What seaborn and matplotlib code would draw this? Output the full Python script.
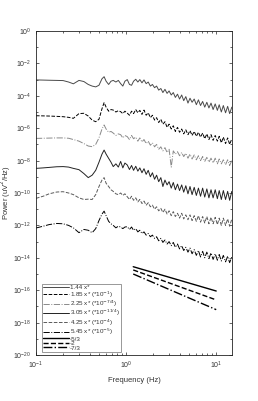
import numpy as np
import pandas as pd
import matplotlib
matplotlib.use("Agg")
import matplotlib.pyplot as plt
import seaborn as sns
from matplotlib.ticker import FixedLocator, NullFormatter

# frequencies (Hz) shared by all spectra
freq = [0.10, 0.12, 0.14, 0.17, 0.20, 0.23, 0.26, 0.30, 0.34, 0.38, 0.42, 0.46,
        0.50, 0.54, 0.57, 0.60, 0.64, 0.68, 0.72, 0.77, 0.82, 0.87, 0.92, 0.97,
        1.03, 1.09, 1.15, 1.21, 1.28, 1.35, 1.42, 1.50, 1.58, 1.67, 1.76, 1.86,
        1.96, 2.07, 2.18, 2.30, 2.43, 2.56, 2.70, 2.85, 3.00, 3.17, 3.34, 3.52,
        3.72, 3.92, 4.14, 4.36, 4.60, 4.86, 5.12, 5.40, 5.70, 6.02, 6.35, 6.70,
        7.07, 7.46, 7.87, 8.30, 8.76, 9.24, 9.75, 10.3, 10.8, 11.4, 12.0, 12.7,
        13.4, 14.1, 14.9]

# log10 power of each (scaled) spectrum
s1 = [-3.02, -3.03, -3.04, -3.05, -3.06, -3.15, -3.26, -3.05, -3.12, -3.30, -3.40, -3.45,
      -3.35, -2.95, -2.82, -3.10, -3.30, -3.10, -3.05, -3.15, -3.05, -3.25, -3.40, -3.10,
      -3.00, -3.30, -3.35, -3.10, -2.98, -3.15, -3.00, -3.20, -3.02, -3.25, -3.15, -3.40,
      -3.30, -3.50, -3.40, -3.65, -3.55, -3.80, -3.60, -3.85, -3.70, -3.95, -3.80, -4.10,
      -3.90, -4.20, -3.95, -4.30, -4.05, -4.45, -4.15, -4.40, -4.20, -4.55, -4.25, -4.60,
      -4.35, -4.70, -4.40, -4.75, -4.45, -4.85, -4.50, -4.90, -4.55, -5.00, -4.60, -5.05,
      -4.65, -5.10, -4.70]
s2 = [-5.23, -5.24, -5.25, -5.27, -5.29, -5.33, -5.39, -5.10, -5.08, -5.25, -5.50, -5.60,
      -5.45, -4.80, -4.42, -4.70, -4.95, -4.85, -4.88, -5.00, -4.92, -4.98, -5.10, -4.95,
      -5.07, -5.20, -4.95, -5.10, -4.85, -5.05, -4.90, -5.15, -4.88, -5.20, -5.05, -5.35,
      -5.20, -5.50, -5.35, -5.65, -5.45, -5.75, -5.60, -5.95, -5.75, -6.05, -5.85, -6.20,
      -5.95, -6.25, -6.05, -6.35, -6.10, -6.40, -6.15, -6.45, -6.20, -6.50, -6.25, -6.55,
      -6.30, -6.65, -6.35, -6.70, -6.40, -6.75, -6.45, -6.80, -6.50, -6.90, -6.55, -6.95,
      -6.60, -7.00, -6.65]
s3 = [-6.63, -6.62, -6.61, -6.60, -6.60, -6.62, -6.70, -6.80, -6.95, -7.10, -7.14, -7.00,
      -6.60, -6.05, -5.80, -6.05, -6.25, -6.20, -6.30, -6.45, -6.35, -6.40, -6.60, -6.45,
      -6.52, -6.70, -6.45, -6.65, -6.55, -6.80, -6.60, -6.85, -6.70, -6.95, -6.80, -7.05,
      -6.90, -7.15, -7.00, -7.30, -7.15, -7.40, -7.20, -7.50, -7.30, -8.40, -7.40, -7.60,
      -7.45, -7.70, -7.50, -7.75, -7.55, -7.85, -7.60, -7.90, -7.65, -7.95, -7.70, -8.00,
      -7.75, -8.05, -7.80, -8.10, -7.85, -8.15, -7.85, -8.20, -7.90, -8.20, -7.95, -8.25,
      -7.95, -8.30, -8.00]
s4 = [-8.48, -8.45, -8.42, -8.38, -8.37, -8.40, -8.48, -8.56, -8.80, -9.05, -8.90, -8.60,
      -8.10, -7.60, -7.35, -7.60, -7.86, -8.10, -8.37, -8.20, -8.40, -8.05, -8.45, -8.15,
      -8.27, -8.55, -8.30, -8.60, -8.35, -8.65, -8.45, -8.75, -8.50, -8.85, -8.60, -9.00,
      -8.75, -9.15, -8.90, -9.30, -9.05, -9.60, -9.20, -9.50, -9.30, -9.70, -9.35, -9.80,
      -9.45, -9.85, -9.50, -9.95, -9.55, -10.05, -9.60, -10.10, -9.65, -10.15, -9.70, -10.20,
      -9.70, -10.25, -9.75, -10.30, -9.80, -10.30, -9.80, -10.35, -9.85, -10.40, -9.85, -10.40,
      -9.90, -10.45, -9.90]
s5 = [-10.33, -10.20, -10.05, -9.94, -9.92, -10.00, -10.10, -10.30, -10.40, -10.38, -10.40, -10.10,
      -9.60, -9.20, -9.05, -9.40, -9.60, -9.80, -9.90, -10.05, -10.10, -10.00, -10.15, -10.05,
      -10.23, -10.40, -10.20, -10.45, -10.30, -10.55, -10.40, -10.65, -10.50, -10.75, -10.60, -10.85,
      -10.75, -11.00, -10.85, -11.10, -10.95, -11.20, -11.00, -11.30, -11.10, -11.40, -11.15, -11.45,
      -11.25, -11.55, -11.25, -11.60, -11.35, -11.65, -11.35, -11.70, -11.40, -11.75, -11.40, -11.80,
      -11.45, -11.85, -11.45, -11.90, -11.50, -11.90, -11.50, -11.95, -11.55, -12.00, -11.55, -12.00,
      -11.60, -12.05, -11.60]
s6 = [-12.16, -12.05, -11.95, -11.88, -11.90, -12.00, -12.15, -12.45, -12.25, -12.30, -12.45, -12.20,
      -11.70, -11.30, -11.12, -11.40, -11.75, -11.90, -12.00, -12.15, -12.05, -12.10, -12.20, -12.10,
      -12.08, -12.25, -12.10, -12.30, -12.20, -12.40, -12.30, -12.50, -12.40, -12.60, -12.50, -12.70,
      -12.60, -12.80, -12.70, -12.95, -12.80, -13.05, -12.90, -13.15, -13.00, -13.25, -13.05, -13.35,
      -13.15, -13.45, -13.25, -13.55, -13.35, -13.65, -13.40, -13.75, -13.50, -13.85, -13.55, -13.95,
      -13.60, -14.00, -13.65, -14.05, -13.70, -14.10, -13.75, -14.15, -13.80, -14.20, -13.85, -14.25,
      -13.90, -14.30, -13.95]

spectra = [s1, s2, s3, s4, s5, s6]
spec_labels = ["1.44 x*", "1.85 x* (*10$^{-1}$)", "2.25 x* (*10$^{-7/4}$)",
               "3.05 x* (*10$^{-11/4}$)", "4.25 x* (*10$^{-4}$)", "5.45 x* (*10$^{-5}$)"]
spec_colors = ["#4a4a4a", "black", "#8a8a8a", "#222222", "#5a5a5a", "black"]
spec_styles = ["-", "--", "-.", "-", "--", "-."]

# reference slope lines (log10 power at the two end frequencies)
slope_f = [1.2, 10.0]
slope_vals = [[-14.55, -16.05], [-14.75, -16.60], [-15.0, -17.2]]
slope_labels = ["-5/3", "-2", "-7/3"]
slope_styles = ["-", "--", "-."]

sns.set_style("ticks")
plt.rcParams["font.family"] = ["Liberation Sans", "DejaVu Sans"]
plt.rcParams["font.size"] = 5

fig = plt.figure(figsize=(2.58, 4.01), dpi=100)
ax = fig.add_axes([0.1395, 0.1147, 0.760, 0.808])

for vals, lab, col, ls in zip(spectra, spec_labels, spec_colors, spec_styles):
    df = pd.DataFrame({"f": freq, "p": np.power(10.0, vals)})
    sns.lineplot(data=df, x="f", y="p", ax=ax, color=col, linestyle=ls,
                 linewidth=0.7, label=lab)

for vals, lab, ls in zip(slope_vals, slope_labels, slope_styles):
    df = pd.DataFrame({"f": slope_f, "p": np.power(10.0, vals)})
    sns.lineplot(data=df, x="f", y="p", ax=ax, color="black", linestyle=ls,
                 linewidth=1.0, label=lab)

ax.set_xscale("log")
ax.set_yscale("log")
ax.set_xlim(0.1, 15)
ax.set_ylim(1e-20, 1)
ax.yaxis.set_major_locator(FixedLocator([10.0 ** e for e in range(-20, 1, 2)]))
ax.yaxis.set_minor_locator(FixedLocator([10.0 ** e for e in range(-19, 0, 2)]))
ax.yaxis.set_minor_formatter(NullFormatter())
ax.tick_params(which="both", direction="in", top=True, right=True,
               labelsize=5, labelcolor="#333333", width=0.5)
ax.tick_params(which="major", length=2.5)
ax.tick_params(which="minor", length=1.5)
for sp in ax.spines.values():
    sp.set_linewidth(0.6)
    sp.set_color("#222222")

ax.set_xlabel("Frequency (Hz)", fontsize=5.5, color="#333333", labelpad=4)
ax.set_ylabel("Power (uV$^2$/Hz)", fontsize=5.5, color="#333333")
ax.yaxis.set_label_coords(-0.118, 0.5)

leg = ax.legend(loc="lower left", bbox_to_anchor=(0.03, 0.01), borderaxespad=0,
                fontsize=4.5, handlelength=4.2, labelspacing=-0.15,
                handletextpad=0.1, borderpad=0.2, fancybox=False, framealpha=1)
leg.get_frame().set_edgecolor("#888888")
leg.get_frame().set_linewidth(0.6)
for t in leg.get_texts():
    t.set_color("#333333")

fig.savefig("out.png", dpi=100)
